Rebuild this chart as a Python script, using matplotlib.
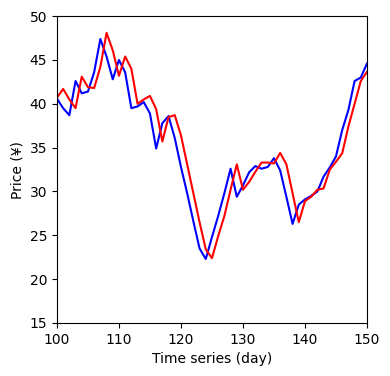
import numpy as np
import matplotlib
matplotlib.use("Agg")
import matplotlib.pyplot as plt

# days shown on the x axis
days = list(range(100, 151))

# actual price (blue)
actual = [40.6, 39.5, 38.7, 42.6, 41.2, 41.4, 43.6, 47.4, 45.4, 42.8,
          45.0, 43.6, 39.5, 39.7, 40.2, 38.9, 34.9, 37.8, 38.6, 36.1,
          32.8, 29.8, 26.6, 23.5, 22.3, 24.8, 27.2, 29.8, 32.6, 29.4,
          30.7, 32.2, 32.9, 32.6, 32.8, 33.8, 32.4, 29.4, 26.3, 28.5,
          29.1, 29.5, 30.0, 31.7, 32.75, 34.0, 37.0, 39.3, 42.6, 43.0,
          44.6]

# predicted price (red)
predicted = [40.7, 41.7, 40.5, 39.5, 43.1, 41.9, 41.8, 44.2, 48.1, 46.1,
             43.2, 45.4, 44.0, 40.0, 40.5, 40.9, 39.4, 35.7, 38.5, 38.7,
             36.4, 33.1, 29.8, 26.5, 23.4, 22.4, 24.9, 27.2, 30.2, 33.1,
             30.2, 31.1, 32.25, 33.3, 33.3, 33.2, 34.4, 33.1, 29.8, 26.5,
             28.9, 29.4, 30.2, 30.35, 32.5, 33.4, 34.35, 37.4, 40.0, 42.6,
             43.65]

fig = plt.figure(figsize=(3.9, 3.76), dpi=100)
ax = fig.add_axes([0.146, 0.141, 0.795, 0.816])

ax.plot(days, actual, color="b")
ax.plot(days, predicted, color="r")

ax.set_xlim(100, 150)
ax.set_ylim(15, 50)
ax.set_xlabel("Time series (day)")
ax.set_ylabel("Price (¥)")

fig.savefig("out.png", dpi=100)
